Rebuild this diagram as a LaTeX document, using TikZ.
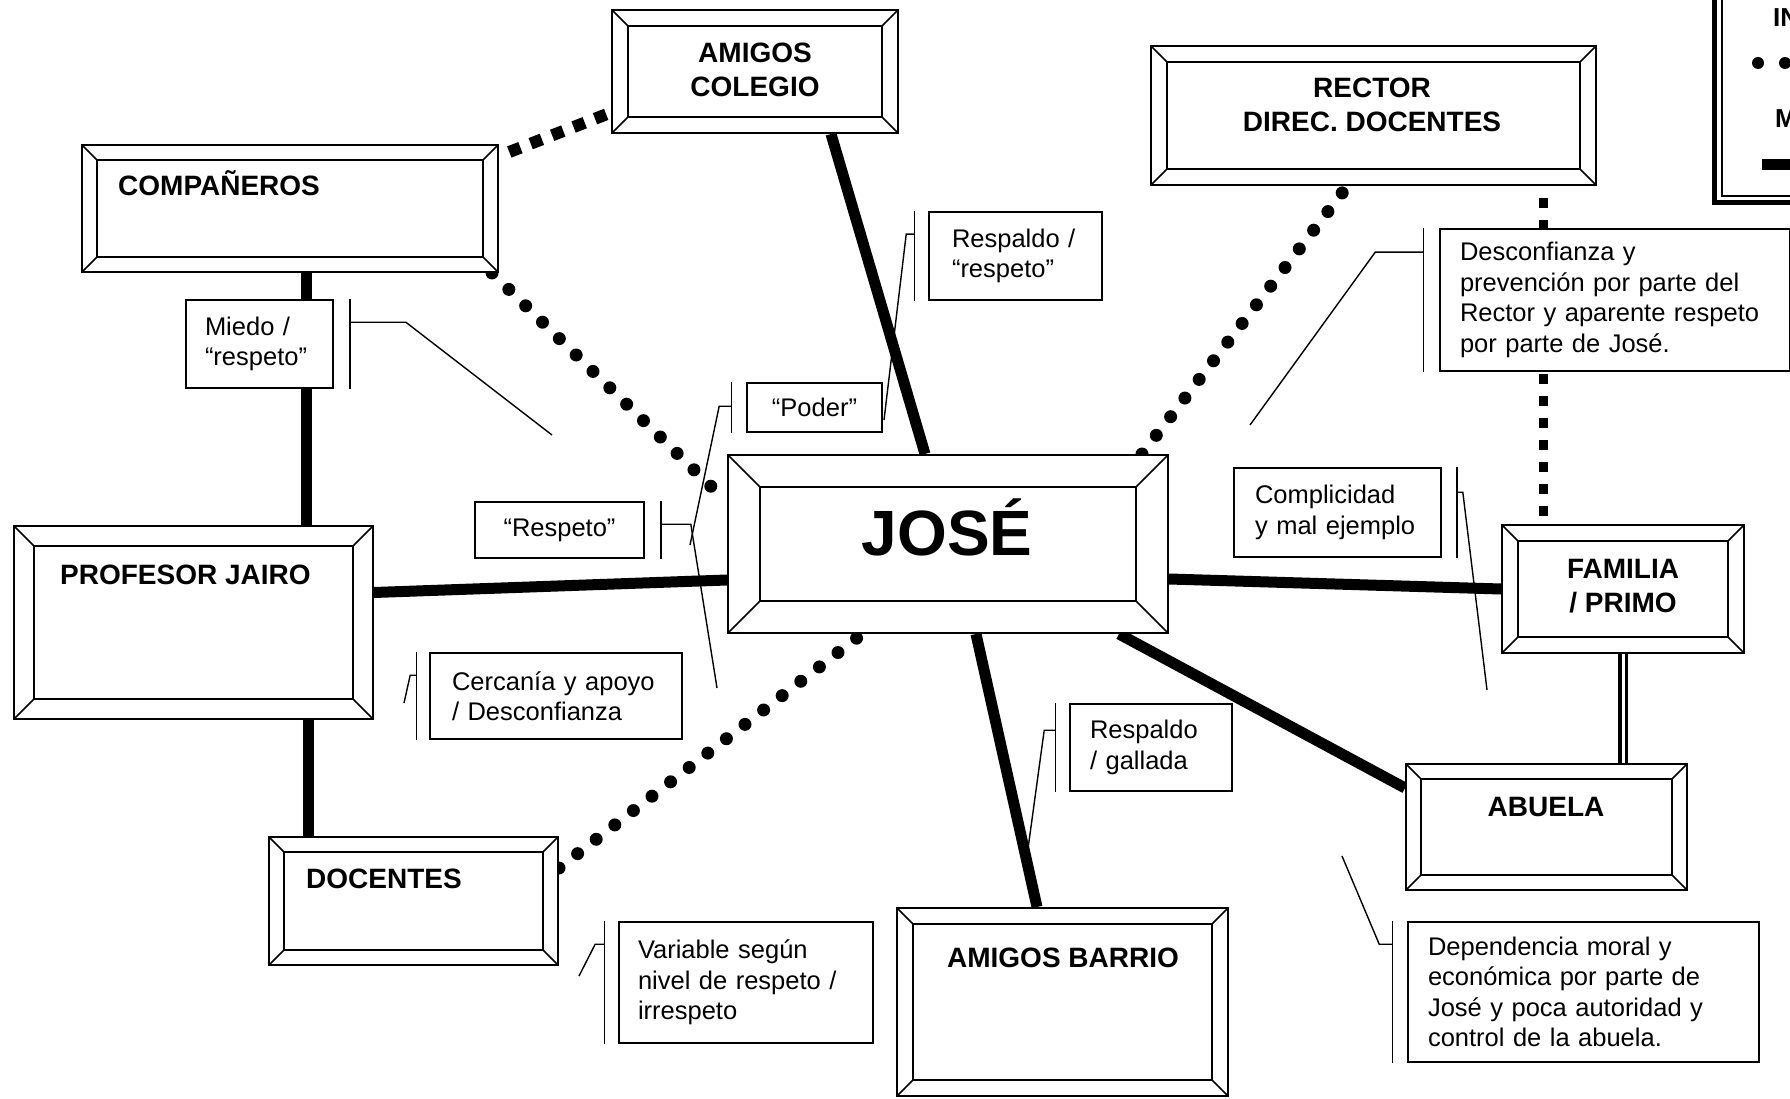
\documentclass[tikz,border=0pt]{standalone}
\usepackage{fontspec}
\setmainfont{Liberation Sans}
\usetikzlibrary{calc}
\pgfdeclarelayer{bg}
\pgfsetlayers{bg,main}
\tikzset{
  bevel/.style={draw, line width=2pt, fill=white, inner sep=0pt, path picture={
    \draw[line width=2pt] ([shift={(#1pt,#1pt)}]path picture bounding box.south west) rectangle ([shift={(-#1pt,-#1pt)}]path picture bounding box.north east);
    \draw[line width=1.6pt] (path picture bounding box.south west) -- ++(#1pt,#1pt)
      (path picture bounding box.north west) -- ++(#1pt,-#1pt)
      (path picture bounding box.north east) -- ++(-#1pt,-#1pt)
      (path picture bounding box.south east) -- ++(-#1pt,#1pt);
  }},
  boxtext/.style={font=\fontsize{28}{34}\selectfont\bfseries, align=center, inner sep=0pt},
  callbox/.style={draw, line width=1.6pt, fill=white, inner ysep=0pt, align=left, font=\fontsize{25.5}{30.5}\selectfont},
  thickline/.style={line width=11pt},
  rounddots/.style={line width=13pt, line cap=round, dash pattern=on 0pt off 23.5pt},
  sqdots/.style={line width=12pt, dash pattern=on 12pt off 11pt, dash phase=12pt},
  thinline/.style={line width=1.4pt},
}
\newcommand\bevbox[7]{\node[bevel=#6, minimum width=#7pt, minimum height=#5pt] (#1) at (#2,#3) {};}
\newcommand\bracketL[5]{%
  \draw[thinline] ([xshift=-#2pt]#1.north west) -- ([xshift=-#2pt]#1.south west);
  \draw[thinline] ([xshift=-#2pt,yshift=-#3pt]#1.north west) -- ++(-#4,0) -- #5;}
\newcommand\bracketR[5]{%
  \draw[thinline] ([xshift=#2pt]#1.north east) -- ([xshift=#2pt]#1.south east);
  \draw[thinline] ([xshift=#2pt,yshift=-#3pt]#1.north east) -- ++(#4,0) -- #5;}
\begin{document}
\begin{tikzpicture}[x=1pt,y=-1pt]
\useasboundingbox (0,0) rectangle (1790,1099);
% bevel boxes: name, cx, cy, (unused), height, bevel, width
\bevbox{colegio}{755}{71.5}{}{123}{16}{286}
\bevbox{companeros}{290}{208.5}{}{127}{15}{416}
\bevbox{rector}{1373.5}{115.5}{}{139}{16}{445}
\bevbox{jose}{948}{544}{}{178}{32}{440}
\bevbox{profesor}{193.5}{622.5}{}{193}{20}{359}
\bevbox{familia}{1623}{589}{}{128}{16}{242}
\bevbox{abuela}{1546.5}{827}{}{126}{15}{281}
\bevbox{docentes}{413.5}{901}{}{128}{15}{289}
\bevbox{barrio}{1062.5}{1002}{}{188}{16}{331}
% box texts
\node[boxtext] (colegio-t) at (755,70) {AMIGOS\\COLEGIO};
\node[boxtext, anchor=base west] (companeros-t) at (118,196) {COMPAÑEROS};
\node[boxtext] (rector-t) at (1372,105) {RECTOR\\DIREC. DOCENTES};
\node[font=\fontsize{64}{70}\selectfont\bfseries, inner sep=0pt, anchor=base] (jose-t) at (947,555) {JOSÉ};
\node[boxtext, anchor=base west] (profesor-t) at (60,584) {PROFESOR JAIRO};
\node[boxtext] (familia-t) at (1623,586) {FAMILIA\\/ PRIMO};
\node[boxtext, anchor=base] (abuela-t) at (1546,816) {ABUELA};
\node[boxtext, anchor=base west] (docentes-t) at (306,888) {DOCENTES};
\node[boxtext, anchor=base] (barrio-t) at (1063,967) {AMIGOS BARRIO};
% connectors
\begin{pgfonlayer}{bg}
\draw[thickline] ([xshift=76pt]colegio.south) -- ([xshift=-23pt]jose.north);
\draw[sqdots] ([yshift=-12pt]companeros.north east) -- ([yshift=-41pt]colegio.west);
\draw[rounddots] ([xshift=-7pt]companeros.south east) -- ([yshift=42pt]jose.west);
\draw[thickline] ([xshift=16pt]companeros.south) -- ([xshift=112.5pt]profesor.north);
\draw[thickline] ([yshift=30pt]profesor.east) -- ([yshift=-36pt]jose.west);
\draw[thickline] ([xshift=114.5pt]profesor.south) -- ([xshift=-105.5pt]docentes.north);
\draw[rounddots] ([yshift=33pt]docentes.east) -- ([xshift=-86pt]jose.south);
\draw[rounddots] ([xshift=194pt]jose.north) -- ([xshift=-26pt]rector.south);
\draw[line width=9pt, dash pattern=on 10pt off 12pt, dash phase=10pt] ([xshift=169.5pt]rector.south) -- ([xshift=-80pt]familia.north);
\draw[thickline] ([yshift=-35pt]jose.east) -- (familia.west);
\draw[thickline] ([xshift=171pt]jose.south) -- ([yshift=39pt]abuela.west);
\draw[thickline] ([xshift=28pt]jose.south) -- ([xshift=-25.5pt]barrio.north);
\draw[line width=3.5pt, double=white, double distance=3pt] (familia.south) -- ([xshift=76.5pt]abuela.north);
\end{pgfonlayer}
% callouts
\node[callbox, inner xsep=23pt, text width=127pt, minimum height=88pt] (resp1) at (1015.5,256) {\mbox{Respaldo /}\\\mbox{“respeto”}};
\node[callbox, inner xsep=19pt, text width=109pt, minimum height=88pt] (miedo) at (259.5,344) {\mbox{Miedo /}\\\mbox{“respeto”}};
\node[callbox, inner xsep=20pt, text width=95pt, minimum height=49pt, align=center] (poder) at (814.5,407.5) {\mbox{“Poder”}};
\node[callbox, inner xsep=20pt, text width=129pt, minimum height=56pt, align=center] (respeto) at (559.5,530) {\mbox{“Respeto”}};
\node[callbox, inner xsep=22pt, text width=208pt, minimum height=86pt] (cercania) at (556,696) {\mbox{Cercanía y apoyo}\\\mbox{/ Desconfianza}};
\node[callbox, inner xsep=20pt, text width=310pt, minimum height=142pt] (desconf) at (1615,300) {\mbox{Desconfianza y}\\\mbox{prevención por parte del}\\\mbox{Rector y aparente respeto}\\\mbox{por parte de José.}};
\node[callbox, inner xsep=21pt, text width=165pt, minimum height=89pt] (complic) at (1337.5,512.5) {\mbox{Complicidad}\\\mbox{y mal ejemplo}};
\node[callbox, inner xsep=20pt, text width=122pt, minimum height=87pt] (gallada) at (1151,747.5) {\mbox{Respaldo}\\\mbox{/ gallada}};
\node[callbox, inner xsep=19pt, text width=216pt, minimum height=121pt] (variable) at (746,982.5) {\mbox{Variable según}\\\mbox{nivel de respeto /}\\\mbox{irrespeto}};
\node[callbox, inner xsep=20pt, text width=311pt, minimum height=140pt] (depend) at (1583.5,992) {\mbox{Dependencia moral y}\\\mbox{económica por parte de}\\\mbox{José y poca autoridad y}\\\mbox{control de la abuela.}};
% brackets and leaders
\bracketL{resp1}{14}{23}{8}{(884,420)}
\bracketR{miedo}{16}{23}{56}{(552,435)}
\bracketL{poder}{15}{24}{12}{(690,545)}
\bracketR{respeto}{16}{23}{30}{(717,688)}
\bracketL{cercania}{13}{23}{6}{(404,703)}
\bracketL{desconf}{16}{24}{48}{(1250,425)}
\bracketR{complic}{15}{25}{6}{(1487,690)}
\bracketL{gallada}{14}{27}{11}{(1027,856)}
\bracketL{variable}{14}{23}{9}{(579,976)}
\bracketL{depend}{15}{23}{13}{(1342,856)}
% legend
\draw[line width=5pt] (1714,-10) -- (1714,203) -- (1800,203);
\draw[line width=1.4pt] (1722,-10) -- (1722,196) -- (1800,196);
\node[font=\fontsize{26}{30}\selectfont\bfseries, inner sep=0pt, anchor=base west] (leg-in) at (1773,27) {IN};
\fill (1758,63) circle (6pt) (1785,63) circle (6pt);
\node[font=\fontsize{26}{30}\selectfont\bfseries, inner sep=0pt, anchor=base west] (leg-m) at (1775,128) {M};
\draw[line width=11pt] (1762,165) -- (1800,165);
\end{tikzpicture}
\end{document}
